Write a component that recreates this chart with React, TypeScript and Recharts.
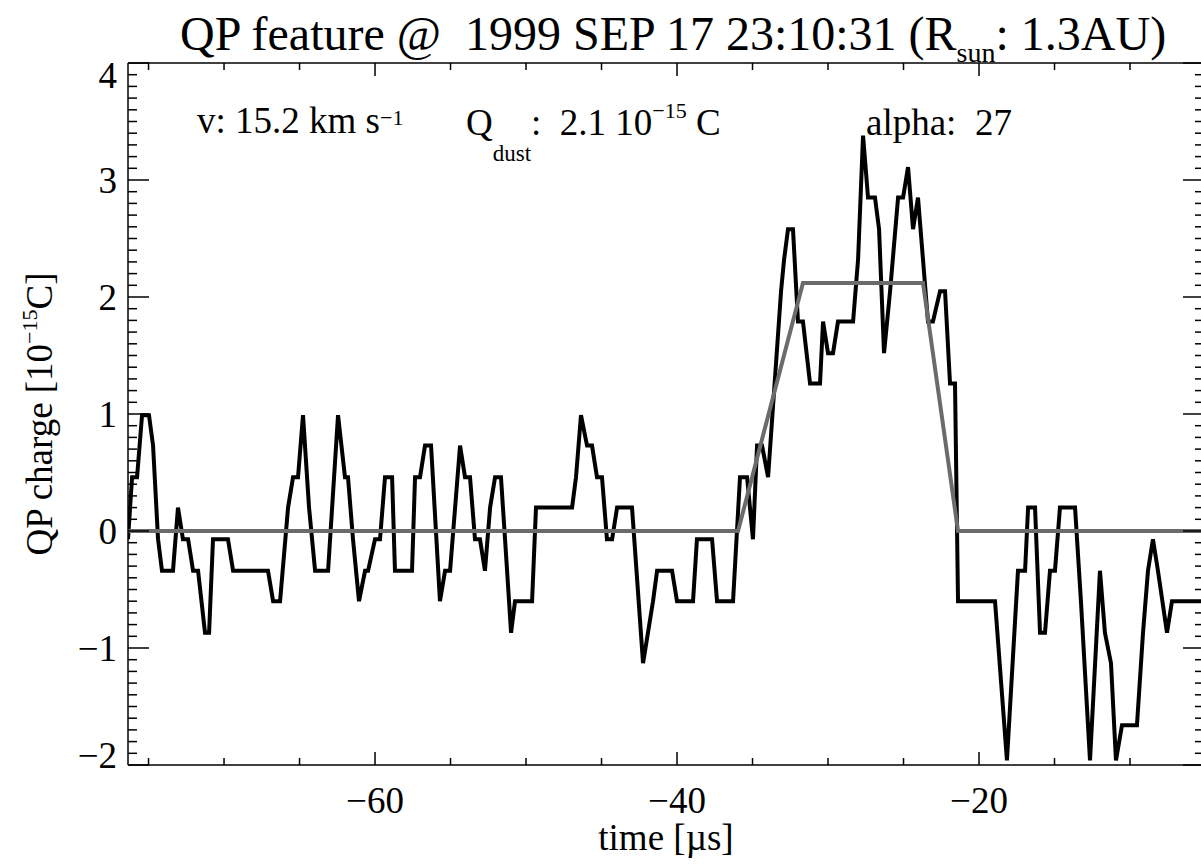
import React from 'react';
import { LineChart, Line, XAxis, YAxis } from 'recharts';

// QP charge trace (time in microseconds, charge in 1e-15 C)
const times = [
  -76.36, -76.09, -75.76, -75.43, -74.97, -74.70, -74.37, -74.11, -73.38, -73.05,
  -72.72, -72.38, -72.05, -71.72, -71.26, -70.99, -70.73, -69.74, -69.40, -67.09,
  -66.75, -66.29, -65.76, -65.43, -65.10, -64.77, -64.37, -63.97, -63.11, -62.45,
  -61.99, -61.79, -61.46, -61.06, -60.66, -60.46, -60.00, -59.67, -59.34, -58.87,
  -58.68, -57.55, -57.35, -57.02, -56.69, -56.29, -55.70, -55.36, -55.03, -54.37,
  -54.04, -53.71, -53.38, -53.05, -52.72, -52.38, -52.05, -51.66, -51.39, -50.99,
  -50.73, -49.60, -49.34, -46.95, -46.69, -46.36, -45.96, -45.63, -45.30, -44.97,
  -44.64, -44.30, -43.97, -42.98, -42.25, -41.59, -41.32, -40.33, -40.00, -38.94,
  -38.68, -37.68, -37.35, -36.29, -35.83, -35.36, -34.97, -34.70, -34.37, -33.97,
  -33.11, -32.91, -32.65, -32.32, -31.99, -31.66, -31.19, -30.53, -30.33, -30.00,
  -29.67, -29.34, -28.34, -28.01, -27.68, -27.35, -26.89, -26.62, -26.29, -25.89,
  -25.36, -25.03, -24.70, -24.37, -24.04, -23.38, -23.05, -22.58, -22.25, -21.92,
  -21.59, -21.39, -18.94, -18.15, -17.42, -16.95, -16.75, -16.29, -15.96, -15.63,
  -15.30, -14.97, -14.64, -13.64, -13.25, -12.65, -11.99, -11.66, -11.26, -10.93,
  -10.53, -9.54, -9.14, -8.81, -8.48, -8.15, -7.55, -7.22, -5.10,
];
const charge = [
  -0.07, 0.46, 0.46, 0.99, 0.99, 0.73, -0.07, -0.34, -0.34, 0.20,
  -0.07, -0.07, -0.34, -0.34, -0.87, -0.87, -0.07, -0.07, -0.34, -0.34,
  -0.60, -0.60, 0.20, 0.46, 0.46, 0.99, 0.20, -0.34, -0.34, 0.99,
  0.46, 0.46, -0.07, -0.60, -0.34, -0.34, -0.07, -0.07, 0.46, 0.46,
  -0.34, -0.34, 0.46, 0.46, 0.73, 0.73, -0.60, -0.34, -0.34, 0.73,
  0.46, 0.46, -0.07, -0.07, -0.34, 0.20, 0.46, 0.46, -0.07, -0.87,
  -0.60, -0.60, 0.20, 0.20, 0.46, 0.99, 0.73, 0.73, 0.46, 0.46,
  -0.07, -0.07, 0.20, 0.20, -1.13, -0.60, -0.34, -0.34, -0.60, -0.60,
  -0.07, -0.07, -0.60, -0.60, 0.46, 0.46, -0.07, 0.73, 0.73, 0.46,
  2.05, 2.32, 2.58, 2.58, 1.79, 1.79, 1.26, 1.26, 1.79, 1.52,
  1.52, 1.79, 1.79, 2.32, 3.38, 2.85, 2.85, 2.58, 1.52, 2.05,
  2.85, 2.85, 3.11, 2.58, 2.85, 1.79, 1.79, 2.05, 2.05, 1.26,
  1.26, -0.60, -0.60, -1.96, -0.34, -0.34, 0.20, 0.20, -0.87, -0.87,
  -0.34, -0.34, 0.20, 0.20, -0.60, -1.96, -0.34, -0.87, -1.13, -1.96,
  -1.66, -1.66, -0.87, -0.34, -0.07, -0.34, -0.87, -0.60, -0.60,
];

// Trapezoid model fit
const fitTimes = [-76.36, -35.96, -31.66, -23.71, -21.39, -5.10];
const fitCharge = [0, 0, 2.12, 2.12, 0, 0];

const xDomain = [-76.36, -5.10];
const yDomain = [-2, 4];
const xTicks = [-75, -70, -65, -60, -55, -50, -45, -40, -35, -30, -25, -20, -15, -10];
const xMajorTicks = [-60, -40, -20];
const xTickLabels = ['\u221260', '\u221240', '\u221220'];
const yMajorTicks = [-2, -1, 0, 1, 2, 3, 4];
const yTickLabels = ['\u22122', '\u22121', '0', '1', '2', '3', '4'];
const yTicks = Array.from({ length: 61 }, (_, i) => Math.round((-2 + i * 0.1) * 10) / 10);

const qpData = times.map((t, i) => ({ t, q: charge[i] }));
const fitData = fitTimes.map((t, i) => ({ t, q: fitCharge[i] }));

const FONT = "'Liberation Serif', 'Times New Roman', 'DejaVu Serif', serif";
const TXT: React.CSSProperties = { fontFamily: FONT, whiteSpace: 'pre' };
const AX = { stroke: '#000', strokeWidth: 1.5 };

const isMajorY = (v: number) => Math.abs(v - Math.round(v)) < 1e-6;

const BottomTick = (props: any) => {
  const { x, y, payload } = props;
  const idx = xMajorTicks.indexOf(payload.value);
  const major = idx >= 0;
  return (
    <g>
      <line x1={x} y1={y} x2={x} y2={y - (major ? 13 : 7)} stroke="#000" strokeWidth={1.5} />
      {major && (
        <text x={x} y={y + 48} textAnchor="middle" fontSize={37} style={TXT} fill="#000">
          {xTickLabels[idx]}
        </text>
      )}
    </g>
  );
};

const TopTick = (props: any) => {
  const { x, y, payload } = props;
  const major = xMajorTicks.indexOf(payload.value) >= 0;
  return <line x1={x} y1={y} x2={x} y2={y + (major ? 13 : 7)} stroke="#000" strokeWidth={1.5} />;
};

const LeftTick = (props: any) => {
  const { x, y, payload } = props;
  const v = payload.value;
  const major = isMajorY(v);
  const idx = yMajorTicks.indexOf(Math.round(v));
  let shift = 12.5;
  if (Math.round(v) === 4) shift += 12;
  if (Math.round(v) === -2) shift -= 10;
  return (
    <g>
      <line x1={x} y1={y} x2={x + (major ? 21 : 9)} y2={y} stroke="#000" strokeWidth={1.5} />
      {major && idx >= 0 && (
        <text x={x - 11} y={y + shift} textAnchor="end" fontSize={37} style={TXT} fill="#000">
          {yTickLabels[idx]}
        </text>
      )}
    </g>
  );
};

const RightTick = (props: any) => {
  const { x, y, payload } = props;
  const major = isMajorY(payload.value);
  return <line x1={x} y1={y} x2={x - (major ? 21 : 9)} y2={y} stroke="#000" strokeWidth={1.5} />;
};

export default function App() {
  return (
    <div style={{ position: 'absolute', left: 0, top: 0, width: 1201, height: 866, overflow: 'hidden', background: '#fff' }}>
      <div style={{ position: 'absolute', left: 0, top: 0 }}>
        <LineChart width={1206} height={866} margin={{ top: 62, right: 0, bottom: 0, left: 0 }}>
          <XAxis xAxisId="b" dataKey="t" type="number" domain={xDomain} allowDataOverflow ticks={xTicks}
            interval={0} tickSize={0} tickMargin={0} tickLine={false} height={101} axisLine={AX}
            tick={(p: any) => <BottomTick {...p} />} />
          <XAxis xAxisId="top" orientation="top" dataKey="t" type="number" domain={xDomain} allowDataOverflow ticks={xTicks}
            interval={0} tickSize={0} tickMargin={0} tickLine={false} height={1} axisLine={AX}
            tick={(p: any) => <TopTick {...p} />} />
          <YAxis yAxisId="l" type="number" domain={yDomain} allowDataOverflow ticks={yTicks}
            interval={0} tickSize={0} tickMargin={0} tickLine={false} width={128} axisLine={AX}
            tick={(p: any) => <LeftTick {...p} />} />
          <YAxis yAxisId="r" orientation="right" type="number" domain={yDomain} allowDataOverflow ticks={yTicks}
            interval={0} tickSize={0} tickMargin={0} tickLine={false} width={2} axisLine={AX}
            tick={(p: any) => <RightTick {...p} />} />
          <Line xAxisId="b" yAxisId="l" data={qpData} dataKey="q" type="linear" stroke="#000"
            strokeWidth={4} dot={false} activeDot={false} isAnimationActive={false} />
          <Line xAxisId="b" yAxisId="l" data={fitData} dataKey="q" type="linear" stroke="#6b6b6b"
            strokeWidth={4} dot={false} activeDot={false} isAnimationActive={false} />
        </LineChart>
      </div>
      <svg width={1201} height={866} style={{ position: 'absolute', left: 0, top: 0, pointerEvents: 'none' }} fill="#000">
        <text x={180} y={50} fontSize={48} style={TXT}>
          QP feature @  1999 SEP 17 23:10:31 (R<tspan fontSize={28} dy={12}>sun</tspan><tspan dy={-12}>: 1.3AU)</tspan>
        </text>
        <text x={197} y={133} fontSize={37} style={TXT}>
          v: 15.2 km s<tspan fontSize={22} dy={-8}>{'\u22121'}</tspan>
        </text>
        <text x={466} y={135} fontSize={37} style={TXT}>
          Q<tspan fontSize={23} dy={26}>dust</tspan><tspan dy={-26}>:  2.1 10</tspan><tspan fontSize={22} dy={-17}>{'\u221215'}</tspan><tspan dy={17}> C</tspan>
        </text>
        <text x={866} y={135} fontSize={37} style={TXT}>
          alpha:  27
        </text>
        <text x={666} y={850} fontSize={37} textAnchor="middle" style={TXT}>
          time [µs]
        </text>
        <text transform="rotate(-90)" x={-414} y={52} fontSize={37} textAnchor="middle" style={TXT}>
          QP charge [10<tspan fontSize={22} dy={-15}>{'\u221215'}</tspan><tspan dy={15}>C]</tspan>
        </text>
      </svg>
    </div>
  );
}
